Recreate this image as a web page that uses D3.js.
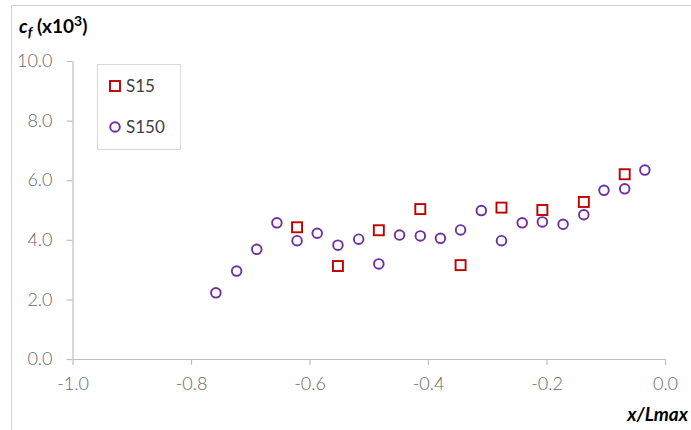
<!DOCTYPE html>
<html>
<head>
<meta charset="utf-8">
<script src="https://cdn.jsdelivr.net/npm/d3@7"></script>
<style>
  html, body { margin: 0; padding: 0; background: #fff; }
  svg { display: block; font-family: Lato, "Open Sans", sans-serif; }
</style>
</head>
<body>
<svg id="chart" width="691" height="430"></svg>
<script>
// ---- data ----
const seriesNames = ["S15", "S150"];
const xS15 = [-0.621, -0.552, -0.483, -0.413, -0.345, -0.276, -0.207, -0.137, -0.068];
const yS15 = [4.42, 3.12, 4.32, 5.03, 3.15, 5.08, 5.00, 5.27, 6.20];
const xS150 = [-0.758, -0.723, -0.689, -0.655, -0.621, -0.587, -0.552, -0.517, -0.483, -0.448, -0.413,
               -0.379, -0.345, -0.310, -0.276, -0.241, -0.207, -0.172, -0.137, -0.103, -0.068, -0.034];
const yS150 = [2.22, 2.95, 3.68, 4.57, 3.97, 4.22, 3.82, 4.02, 3.19, 4.16, 4.13,
               4.05, 4.33, 4.98, 3.97, 4.57, 4.60, 4.52, 4.84, 5.66, 5.71, 6.34];
const xTickValues = [-1.0, -0.8, -0.6, -0.4, -0.2, 0.0];
const xTickLabels = ["-1.0", "-0.8", "-0.6", "-0.4", "-0.2", "0.0"];
const yTickValues = [0, 2, 4, 6, 8, 10];
const yTickLabels = ["0.0", "2.0", "4.0", "6.0", "8.0", "10.0"];

(function () {
// ---- layout ----
const svg = d3.select("#chart");
const mLeft = 72.5, mRight = 665, mTop = 61, mBottom = 359;
const x = d3.scaleLinear().domain([-1, 0]).range([mLeft, mRight]);
const y = d3.scaleLinear().domain([0, 10]).range([mBottom, mTop]);

const axisColor = "#bfbfbf";
const tickTextColor = "#666666";

// outer chart border (left & top visible)
svg.append("path")
  .attr("d", "M11.5,440 L11.5,5.5 L700,5.5")
  .attr("fill", "none").attr("stroke", "#d0d0d0").attr("stroke-width", 1);

// x axis
const xAxis = d3.axisBottom(x)
  .tickValues(xTickValues)
  .tickFormat((d, i) => xTickLabels[i])
  .tickSizeInner(6).tickSizeOuter(0).tickPadding(12);
const gx = svg.append("g").attr("transform", `translate(0,${mBottom})`).call(xAxis);
gx.select(".domain").attr("stroke", axisColor).attr("stroke-width", 1.2);
gx.selectAll(".tick line").attr("stroke", axisColor).attr("stroke-width", 1.2);
gx.selectAll(".tick text").attr("fill", tickTextColor).style("font-size", "18px")
  .style("font-weight", "300").style("font-family", "Lato, sans-serif");

// y axis
const yAxis = d3.axisLeft(y)
  .tickValues(yTickValues)
  .tickFormat((d, i) => yTickLabels[i])
  .tickSizeInner(6).tickSizeOuter(0).tickPadding(14);
const gy = svg.append("g").attr("transform", `translate(${mLeft},0)`).call(yAxis);
gy.select(".domain").attr("stroke", axisColor).attr("stroke-width", 1.2);
gy.selectAll(".tick line").attr("stroke", axisColor).attr("stroke-width", 1.2);
gy.selectAll(".tick text").attr("fill", tickTextColor).style("font-size", "18px")
  .style("font-weight", "300").style("font-family", "Lato, sans-serif");

// axis titles
const yTitle = svg.append("text").attr("x", 19).attr("y", 33)
  .style("font-size", "19px").style("font-weight", "bold").attr("fill", "#000");
yTitle.append("tspan").text("c").style("font-style", "italic");
yTitle.append("tspan").text("f").style("font-style", "italic")
  .attr("dy", 4).style("font-size", "14px");
yTitle.append("tspan").text("\u00a0(x10").attr("dy", -4);
yTitle.append("tspan").text("3").attr("dy", -7).style("font-size", "14px");
yTitle.append("tspan").text(")").attr("dy", 7);

svg.append("text").attr("x", 688).attr("y", 421).attr("text-anchor", "end")
  .style("font-size", "19px").style("font-style", "italic").style("font-weight", "bold")
  .attr("fill", "#000").text("x/Lmax");

// data marks
const red = "#c00000", purple = "#7030a0";
const sq = 10;
const s150 = d3.zip(xS150, yS150);
const s15 = d3.zip(xS15, yS15);

svg.append("g").selectAll("circle").data(s150).join("circle")
  .attr("cx", d => x(d[0])).attr("cy", d => y(d[1])).attr("r", 4.8)
  .attr("fill", "none").attr("stroke", purple).attr("stroke-width", 1.9);

svg.append("g").selectAll("rect").data(s15).join("rect")
  .attr("x", d => x(d[0]) - sq / 2).attr("y", d => y(d[1]) - sq / 2)
  .attr("width", sq).attr("height", sq)
  .attr("fill", "none").attr("stroke", red).attr("stroke-width", 1.9);

// legend
const lg = svg.append("g");
lg.append("rect").attr("x", 97.5).attr("y", 64.5).attr("width", 83).attr("height", 85)
  .attr("fill", "#fff").attr("stroke", "#d9d9d9").attr("stroke-width", 1);
lg.append("rect").attr("x", 115 - sq / 2).attr("y", 86 - sq / 2).attr("width", sq).attr("height", sq)
  .attr("fill", "none").attr("stroke", red).attr("stroke-width", 1.9);
lg.append("circle").attr("cx", 115).attr("cy", 127).attr("r", 4.8)
  .attr("fill", "none").attr("stroke", purple).attr("stroke-width", 1.9);
lg.append("text").attr("x", 126).attr("y", 86).attr("dy", "0.35em")
  .style("font-size", "17px").attr("fill", "#404040").text(seriesNames[0]);
lg.append("text").attr("x", 126).attr("y", 127).attr("dy", "0.35em")
  .style("font-size", "17px").attr("fill", "#404040").text(seriesNames[1]);
})();
</script>
</body>
</html>
